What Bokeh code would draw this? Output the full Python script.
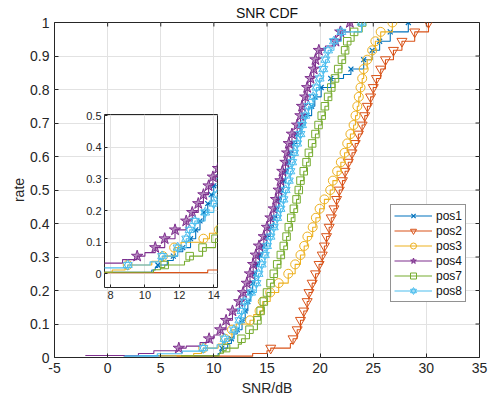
import math
from bokeh.plotting import figure
from bokeh.models import Range1d, FixedTicker, Legend, LegendItem, CustomJSTickFormatter
from bokeh.layouts import column
from bokeh.embed import file_html
from bokeh.resources import INLINE

# ---------------- data ----------------
X_TICKS = [-5, 0, 5, 10, 15, 20, 25, 30, 35]
Y_TICKS = [0, 0.1, 0.2, 0.3, 0.4, 0.5, 0.6, 0.7, 0.8, 0.9, 1.0]
INSET_X_TICKS = [8, 10, 12, 14]
INSET_Y_TICKS = [0, 0.1, 0.2, 0.3, 0.4, 0.5]

# CDF levels at which the markers sit
MARK_RATE = [0.028, 0.056, 0.083, 0.111, 0.139, 0.167, 0.194, 0.222, 0.25, 0.278,
             0.306, 0.333, 0.361, 0.389, 0.417, 0.444, 0.472, 0.5, 0.528, 0.556,
             0.583, 0.611, 0.639, 0.667, 0.694, 0.722, 0.75, 0.778, 0.806, 0.833,
             0.861, 0.889, 0.917, 0.944, 0.972, 1.0]

pos1_mark_snr = [10.75, 11.65, 12.2, 12.65, 12.95, 13.2, 13.42, 13.65, 13.85, 14.0,
                 14.3, 14.6, 14.95, 15.3, 15.6, 15.9, 16.1, 16.35, 16.55, 16.75,
                 17.0, 17.2, 17.45, 17.8, 18.2, 18.6, 19.2, 19.5, 20.1, 21.0,
                 22.9, 24.1, 24.9, 25.6, 26.6, 28.3]
pos1_step_snr = [1.5, 10.4, 10.6, 11.3, 11.9, 22.2]
pos1_step_rate = [0.005, 0.012, 0.02, 0.042, 0.07, 0.845]

pos2_mark_snr = [15.35, 17.45, 17.84, 18.15, 18.46, 18.78, 18.95, 19.25, 19.57, 19.9,
                 20.2, 20.4, 20.6, 20.85, 21.05, 21.3, 21.55, 21.8, 22.1, 22.35,
                 22.65, 23.0, 23.3, 23.6, 23.95, 24.2, 24.45, 24.75, 25.0, 25.3,
                 25.7, 26.15, 26.9, 27.7, 28.9, 30.2]
pos2_step_snr = [6.5, 13.65, 15.0, 17.2]
pos2_step_rate = [0.004, 0.012, 0.02, 0.042]

pos3_mark_snr = [9.0, 11.05, 11.7, 13.4, 14.3, 14.6, 15.3, 16.1, 17.0, 17.65,
                 18.15, 18.5, 18.8, 19.3, 19.6, 19.95, 20.4, 20.95, 21.2, 21.6,
                 21.95, 22.3, 22.55, 22.85, 23.15, 23.33, 23.5, 23.64, 23.8, 23.96,
                 24.1, 24.43, 24.9, 25.2, 25.7, 26.8]
pos3_step_snr = [4.8, 8.1, 8.85, 10.4, 12.1, 13.75]
pos3_step_rate = [0.005, 0.012, 0.02, 0.04, 0.1, 0.128]

pos4_mark_snr = [6.7, 9.55, 10.6, 11.15, 11.75, 12.4, 12.75, 13.1, 13.4, 13.7,
                 13.95, 14.25, 14.7, 15.0, 15.33, 15.64, 15.85, 16.1, 16.27, 16.45,
                 16.74, 16.9, 17.05, 17.35, 17.84, 18.15, 18.3, 18.6, 18.78, 19.1,
                 19.4, 19.56, 19.88, 21.45, 21.9, 22.8]
pos4_step_snr = [-2.1, 2.9, 4.35, 7.4, 8.7, 10.0, 20.5]
pos4_step_rate = [0.006, 0.012, 0.02, 0.034, 0.045, 0.067, 0.93]

pos7_mark_snr = [11.15, 12.6, 13.35, 14.1, 14.4, 14.7, 15.0, 15.33, 15.64, 15.96,
                 16.3, 16.58, 16.84, 17.05, 17.28, 17.53, 17.78, 17.99, 18.15, 18.46,
                 18.72, 18.94, 19.25, 19.56, 19.85, 20.15, 20.45, 20.75, 21.05, 21.4,
                 21.7, 22.05, 22.35, 22.55, 23.2, 23.96]
pos7_step_snr = [6.9, 10.5, 10.9, 12.3]
pos7_step_rate = [0.005, 0.013, 0.02, 0.04]

pos8_mark_snr = [9.0, 11.0, 11.9, 12.4, 12.6, 12.9, 13.5, 14.0, 14.2, 14.5,
                 14.8, 15.0, 15.33, 15.64, 15.96, 16.27, 16.55, 16.75, 17.05, 17.2,
                 17.37, 17.55, 17.84, 18.15, 18.3, 18.6, 18.9, 19.35, 19.65, 19.95,
                 20.3, 20.5, 20.75, 21.3, 22.0, 23.9]
pos8_step_snr = [1.6, 4.67, 7.0, 10.3, 10.8]
pos8_step_rate = [0.005, 0.011, 0.019, 0.038, 0.045]

LABELS = ["pos1", "pos2", "pos3", "pos4", "pos7", "pos8"]
COLORS = ["#0072BD", "#D95319", "#EDB120", "#7E2F8E", "#77AC30", "#4DBEEE"]

SERIES = [
    (pos1_mark_snr, pos1_step_snr, pos1_step_rate),
    (pos2_mark_snr, pos2_step_snr, pos2_step_rate),
    (pos3_mark_snr, pos3_step_snr, pos3_step_rate),
    (pos4_mark_snr, pos4_step_snr, pos4_step_rate),
    (pos7_mark_snr, pos7_step_snr, pos7_step_rate),
    (pos8_mark_snr, pos8_step_snr, pos8_step_rate),
]

FONT = "Liberation Sans"
AX = "#262626"
GRID = "#e2e2e2"
FMT = "return Number(tick.toFixed(2)).toString();"


def knots(mark_snr, step_snr, step_rate):
    pts = sorted(list(zip(mark_snr, MARK_RATE)) + list(zip(step_snr, step_rate)),
                 key=lambda t: (t[1], t[0]))
    return [a for a, _ in pts], [b for _, b in pts]


def draw(fig, idx):
    mark_snr, step_snr, step_rate = SERIES[idx]
    xs, ys = knots(mark_snr, step_snr, step_rate)
    c = COLORS[idx]
    rs = [fig.step(xs, ys, mode="after", line_color=c, line_width=1.1)]
    lbl = LABELS[idx]
    if lbl == "pos1":
        rs.append(fig.scatter(mark_snr, MARK_RATE, marker="x", size=7,
                              line_color=c, line_width=1.2))
    elif lbl == "pos2":
        rs.append(fig.scatter(mark_snr, MARK_RATE, marker="inverted_triangle",
                              size=10, fill_color=None, line_color=c, line_width=1.0))
    elif lbl == "pos3":
        rs.append(fig.scatter(mark_snr, MARK_RATE, marker="circle", size=9,
                              fill_color=None, line_color=c, line_width=1.0))
    elif lbl == "pos4":
        rs.append(fig.scatter(mark_snr, MARK_RATE, marker="star", size=12,
                              fill_color=c, fill_alpha=0.55, line_color=c, line_width=1.0))
    elif lbl == "pos7":
        rs.append(fig.scatter(mark_snr, MARK_RATE, marker="square", size=7.5,
                              fill_color=None, line_color=c, line_width=1.0))
    else:
        rs.append(fig.scatter(mark_snr, MARK_RATE, marker="triangle", size=9,
                              fill_color=None, line_color=c, line_width=1.0))
        rs.append(fig.scatter(mark_snr, MARK_RATE, marker="inverted_triangle",
                              size=9, fill_color=None, line_color=c, line_width=1.0))
    return rs


def style_axis(ax, size, tick_in):
    ax.axis_line_color = None
    ax.major_tick_in = tick_in
    ax.major_tick_out = 0
    ax.major_tick_line_color = AX
    ax.minor_tick_line_color = None
    ax.major_label_text_font = FONT
    ax.major_label_text_font_size = size
    ax.major_label_text_color = AX
    ax.formatter = CustomJSTickFormatter(code=FMT)


def mirror_ticks(fig, xticks, yticks, length):
    # inward tick marks on the top and right frame edges (half of each dash is clipped)
    xr, yr = fig.x_range, fig.y_range
    fig.scatter(xticks, [yr.end] * len(xticks), marker="dash", angle=math.pi / 2,
                size=2 * length, line_color=AX, line_width=1)
    fig.scatter([xr.end] * len(yticks), yticks, marker="dash",
                size=2 * length, line_color=AX, line_width=1)


# ---------------- main figure ----------------
p = figure(width=492, height=403, x_range=Range1d(-5, 35), y_range=Range1d(0, 1),
           output_backend="svg", toolbar_location=None,
           min_border_left=54, min_border_right=13, min_border_top=22, min_border_bottom=46)
p.outline_line_color = AX
p.outline_line_width = 1
p.background_fill_color = "white"
p.border_fill_color = "white"

p.title.text = "SNR CDF"
p.title.align = "center"
p.title.text_font = FONT
p.title.text_font_size = "14px"
p.title.text_font_style = "normal"
p.title.text_color = "#111111"
p.title.standoff = 4

p.xaxis.ticker = FixedTicker(ticks=X_TICKS)
p.yaxis.ticker = FixedTicker(ticks=Y_TICKS)
for ax in p.xaxis + p.yaxis:
    style_axis(ax, "14px", 4)
    ax.axis_label_text_font = FONT
    ax.axis_label_text_font_size = "14px"
    ax.axis_label_text_font_style = "normal"
    ax.axis_label_text_color = AX
    ax.major_label_standoff = 5
p.xaxis.axis_label = "SNR/dB"
p.yaxis.axis_label = "rate"
p.xaxis.axis_label_standoff = 4
p.yaxis.axis_label_standoff = 0

p.xgrid.grid_line_color = GRID
p.ygrid.grid_line_color = GRID
mirror_ticks(p, X_TICKS, Y_TICKS, 4)

items = []
for i in range(len(SERIES)):
    rs = draw(p, i)
    items.append(LegendItem(label=LABELS[i], renderers=rs))

legend = Legend(items=items, location=(336, 55), orientation="vertical",
                border_line_color=AX, border_line_width=1,
                background_fill_color="white", background_fill_alpha=1.0,
                label_text_font=FONT, label_text_font_size="12px", label_text_color="#111111",
                glyph_width=38, glyph_height=15, label_height=15, spacing=0,
                padding=3, margin=0, label_standoff=4)
p.add_layout(legend)

# ---------------- inset figure ----------------
ins = figure(width=180, height=194, x_range=Range1d(7.652, 14.217),
             y_range=Range1d(-0.043, 0.503), output_backend="svg", toolbar_location=None,
             min_border_left=24, min_border_right=5, min_border_top=3, min_border_bottom=18,
             border_fill_color=None, background_fill_color="white",
             styles={"position": "absolute", "left": "50px", "top": "111px"})
ins.outline_line_color = AX
ins.outline_line_width = 1
ins.xaxis.ticker = FixedTicker(ticks=INSET_X_TICKS)
ins.yaxis.ticker = FixedTicker(ticks=INSET_Y_TICKS)
for ax in ins.xaxis + ins.yaxis:
    style_axis(ax, "11px", 3)
    ax.major_label_standoff = 3
ins.xgrid.grid_line_color = GRID
ins.ygrid.grid_line_color = GRID
for i in range(len(SERIES)):
    draw(ins, i)

layout = column(p, ins, styles={"position": "relative"})
open("out.html", "w").write(file_html(layout, INLINE))
